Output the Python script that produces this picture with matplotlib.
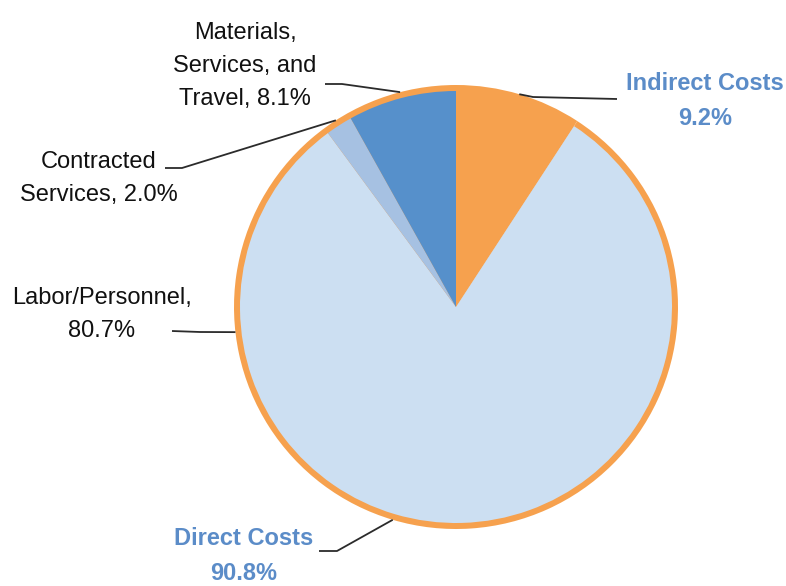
import numpy as np
import matplotlib
matplotlib.use("Agg")
import matplotlib.pyplot as plt

plt.rcParams['font.family'] = ['Liberation Sans', 'DejaVu Sans']

# Cost breakdown (percent of total)
outer_labels = ["Indirect Costs", "Direct Costs"]
outer_values = [9.2, 90.8]
inner_labels = ["Indirect Costs", "Labor/Personnel", "Contracted Services",
                "Materials, Services, and Travel"]
inner_values = [9.2, 80.7, 2.0, 8.1]

ORANGE = "#F6A14E"
inner_colors = [ORANGE, "#CCDFF2", "#A6C1E2", "#5690CB"]
BLUE_TEXT = "#5B8CC8"
LINE = "#2b2b2b"

W, H = 786, 586
fig = plt.figure(figsize=(W / 100, H / 100), dpi=100)
ax = fig.add_axes([0, 0, 1, 1])

cx, cy = 456, H - 307
R = 222
ring = 6

ax.pie(outer_values, colors=[ORANGE, ORANGE], radius=R, center=(cx, cy),
       startangle=90, counterclock=False, wedgeprops=dict(linewidth=0))
ax.pie(inner_values, colors=inner_colors, radius=R - ring, center=(cx, cy),
       startangle=90, counterclock=False, wedgeprops=dict(linewidth=0))

ax.set_xlim(0, W)
ax.set_ylim(0, H)
ax.set_aspect('equal')
ax.axis('off')


def mid_angle(values, i):
    """Angle (deg) of the middle of wedge i for a clockwise pie starting at 90."""
    total = sum(values)
    frac = (sum(values[:i]) + values[i] / 2) / total
    return 90 - 360 * frac


def edge_point(angle):
    a = np.deg2rad(angle)
    return cx + R * np.cos(a), cy + R * np.sin(a)


def leader(angle, bend, end):
    px, py = edge_point(angle)
    xs = [px, bend[0], end[0]]
    ys = [py, H - bend[1], H - end[1]]
    ax.plot(xs, ys, color=LINE, lw=1.3, solid_capstyle='butt')


fs = 17
lsp = 1.66

# Materials, Services, and Travel
leader(mid_angle(inner_values, 3), (342, 84), (325, 84))
ax.text(245, H - 105, "Materials,\nServices, and\nTravel, 8.1%", ha='center',
        va='baseline', fontsize=fs, color='#111111', linespacing=lsp)

# Contracted Services
leader(mid_angle(inner_values, 2), (182, 168), (165, 168))
ax.text(99, H - 201, "Contracted\nServices, 2.0%", ha='center',
        va='baseline', fontsize=fs, color='#111111', linespacing=lsp)

# Labor/Personnel
leader(186.5, (200, 332), (172, 331))
ax.text(102, H - 337, "Labor/Personnel,\n80.7%", ha='center',
        va='baseline', fontsize=fs, color='#111111', linespacing=lsp)

# Indirect Costs
leader(mid_angle(outer_values, 0), (533, 97), (617, 99))
ax.text(705, H - 125, "Indirect Costs\n9.2%", ha='center', va='baseline',
        fontsize=fs, fontweight='bold', color=BLUE_TEXT, linespacing=lsp)

# Direct Costs
leader(mid_angle(outer_values, 1), (337, 551), (319, 551))
ax.text(244, H - 580, "Direct Costs\n90.8%", ha='center', va='baseline',
        fontsize=fs, fontweight='bold', color=BLUE_TEXT, linespacing=lsp)

fig.savefig("out.png", dpi=100)
